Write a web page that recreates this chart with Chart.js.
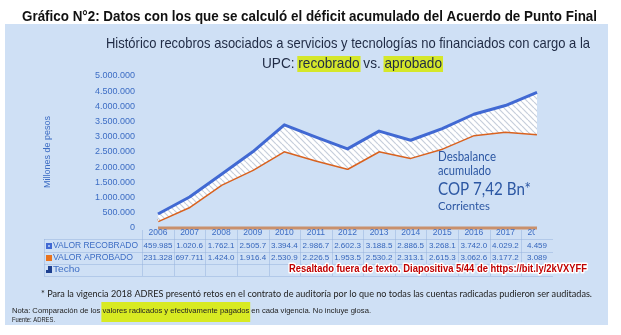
<!DOCTYPE html>
<html>
<head>
<meta charset="utf-8">
<script src="https://cdn.jsdelivr.net/npm/chart.js@4.4.0/dist/chart.umd.min.js"></script>
<style>
  html, body { margin: 0; padding: 0; background: #fff; }
  #wrap { width: 621px; height: 335px; }
</style>
</head>
<body>
<div id="wrap"><canvas id="myChart" width="621" height="335"></canvas></div>
<script>
// data (millones de pesos)
var years = ["2006", "2007", "2008", "2009", "2010", "2011", "2012", "2013", "2014", "2015", "2016", "2017", "2018"];
var recobrado = [459985, 1020600, 1762100, 2505700, 3394400, 2986700, 2602300, 3188500, 2886500, 3268100, 3742000, 4029200, 4459000];
var aprobado = [231328, 697711, 1424000, 1916400, 2530900, 2226500, 1953500, 2530200, 2313100, 2615300, 3062600, 3177200, 3089000];
// text shown in the data table (truncated as in the slide)
var recobradoText = ["459.985", "1.020.6", "1.762.1", "2.505.7", "3.394.4", "2.986.7", "2.602.3", "3.188.5", "2.886.5", "3.268.1", "3.742.0", "4.029.2", "4.459"];
var aprobadoText = ["231.328", "697.711", "1.424.0", "1.916.4", "2.530.9", "2.226.5", "1.953.5", "2.530.2", "2.313.1", "2.615.3", "3.062.6", "3.177.2", "3.089"];
var rowNames = ["VALOR RECOBRADO", "VALOR APROBADO", "Techo"];

var BLUE = "#4169d3";
var ORANGE = "#d9621f";
var AXIS_TXT = "#3d6dc4";
var ARIAL = "'Liberation Sans', Arial, sans-serif";
var NARROW = "'Liberation Sans Narrow', 'Liberation Sans', Arial, sans-serif";
var CALIBRI = "Lato, 'Open Sans', sans-serif";

// diagonal hatch between the two lines
function makeHatch() {
  var s = 6;
  var c = document.createElement("canvas");
  c.width = s; c.height = s;
  var g = c.getContext("2d");
  g.fillStyle = "#ffffff";
  g.fillRect(0, 0, s, s);
  g.strokeStyle = "#c6cedb";
  g.lineWidth = 1.2;
  [-s, 0, s].forEach(function (o) {
    g.beginPath();
    g.moveTo(o, 0);
    g.lineTo(o + s, s);
    g.stroke();
  });
  return g.createPattern(c, "repeat");
}

// draw text stretched/squeezed to a target width
function fitText(ctx, text, x, y, width) {
  var w = ctx.measureText(text).width;
  ctx.save();
  ctx.translate(x, y);
  ctx.scale(width / w, 1);
  ctx.textAlign = "left";
  ctx.fillText(text, 0, 0);
  ctx.restore();
}

var decor = {
  id: "decor",
  beforeDraw: function (chart) {
    var ctx = chart.ctx;
    ctx.save();
    ctx.fillStyle = "#ffffff";
    ctx.fillRect(0, 0, chart.width, chart.height);
    ctx.fillStyle = "#cfe0f5";
    ctx.fillRect(5, 24, 603, 301);
    ctx.restore();
  },
  afterDraw: function (chart) {
    var ctx = chart.ctx;
    var xs = chart.scales.x;
    var area = chart.chartArea;
    ctx.save();
    ctx.textBaseline = "middle";

    // heading above the panel
    ctx.fillStyle = "#111111";
    ctx.font = "bold 14px " + NARROW;
    fitText(ctx, "Gráfico N°2: Datos con los que se calculó el déficit acumulado del Acuerdo de Punto Final", 22, 17, 575);

    // panel title
    ctx.fillStyle = "#1f2a44";
    ctx.font = "15px " + ARIAL;
    fitText(ctx, "Histórico recobros asociados a servicios y tecnologías no financiados con cargo a la", 106, 44, 484);
    var parts = ["UPC: ", "recobrado", " vs. ", "aprobado"];
    var full = parts.join("");
    var sc = 180 / ctx.measureText(full).width;
    var px = 262;
    parts.forEach(function (p, i) {
      var w = ctx.measureText(p).width * sc;
      if (i === 1 || i === 3) {
        ctx.fillStyle = "#d5e72a";
        ctx.fillRect(px - 1, 56, w + 2, 16);
      }
      ctx.fillStyle = "#1f2a44";
      fitText(ctx, p, px, 64, w);
      px += w;
    });

    // axis title
    ctx.save();
    ctx.translate(48, 152);
    ctx.rotate(-Math.PI / 2);
    ctx.fillStyle = AXIS_TXT;
    ctx.font = "9px " + ARIAL;
    ctx.textAlign = "center";
    ctx.fillText("Millones de pesos", 0, 0);
    ctx.restore();

    // floor line
    ctx.strokeStyle = "#c9906c";
    ctx.lineWidth = 3;
    ctx.beginPath();
    ctx.moveTo(area.left, area.bottom);
    ctx.lineTo(area.right, area.bottom);
    ctx.stroke();

    // annotation
    ctx.fillStyle = "#2c57a3";
    ctx.font = "13px " + CALIBRI;
    fitText(ctx, "Desbalance", 438, 157, 58);
    fitText(ctx, "acumulado", 438, 171, 53);
    ctx.font = "18px " + CALIBRI;
    fitText(ctx, "COP 7,42 Bn*", 438, 189, 93);
    ctx.font = "11px " + CALIBRI;
    fitText(ctx, "Corrientes", 438, 206, 52);

    // data table
    var colW = xs.getPixelForValue(1) - xs.getPixelForValue(0);
    var tRight = 553;
    ctx.save();
    ctx.beginPath();
    ctx.rect(0, 0, tRight, chart.height);
    ctx.clip();
    ctx.strokeStyle = "rgba(150,178,222,0.5)";
    ctx.lineWidth = 1;
    [239.5, 252.5, 264.5, 276.5].forEach(function (y) {
      ctx.beginPath();
      ctx.moveTo(44, y);
      ctx.lineTo(tRight, y);
      ctx.stroke();
    });
    for (var i = 0; i <= years.length; i++) {
      var bx = Math.round(xs.getPixelForValue(0) - colW / 2 + i * colW) + 0.5;
      ctx.beginPath();
      ctx.moveTo(bx, 230);
      ctx.lineTo(bx, 276);
      ctx.stroke();
    }
    ctx.beginPath();
    ctx.moveTo(44.5, 239);
    ctx.lineTo(44.5, 276);
    ctx.stroke();

    ctx.textAlign = "center";
    ctx.fillStyle = AXIS_TXT;
    ctx.font = "8.5px " + ARIAL;
    years.forEach(function (y, i) {
      var cx = xs.getPixelForValue(i);
      ctx.save();
      ctx.beginPath();
      ctx.rect(0, 0, 535, chart.height);
      ctx.clip();
      ctx.fillText(y, cx, 233);
      ctx.restore();
    });
    ctx.font = "8px " + ARIAL;
    ctx.fillStyle = "#3565bb";
    recobradoText.forEach(function (t, i) {
      ctx.fillText(t, xs.getPixelForValue(i), 246);
    });
    aprobadoText.forEach(function (t, i) {
      ctx.fillText(t, xs.getPixelForValue(i), 258);
    });
    ctx.restore();

    // row labels with keys
    ctx.font = "9px " + ARIAL;
    ctx.fillStyle = AXIS_TXT;
    fitText(ctx, rowNames[0], 53, 246, 85);
    fitText(ctx, rowNames[1], 53, 258, 80);
    fitText(ctx, rowNames[2], 53, 270, 27);
    ctx.fillStyle = BLUE;
    ctx.fillRect(46, 243, 6, 6);
    ctx.fillStyle = "#9fbaf0";
    ctx.fillRect(48, 245, 2, 2);
    ctx.fillStyle = "#e8731f";
    ctx.fillRect(46, 255, 6, 6);
    ctx.fillStyle = "#1d3f8f";
    ctx.fillRect(48, 266, 4, 7);
    ctx.fillRect(46, 270, 6, 3);

    // red note
    ctx.font = "bold 11px " + NARROW;
    var note = "Resaltado fuera de texto. Diapositiva 5/44 de https://bit.ly/2kVXYFF";
    var nw = ctx.measureText(note).width;
    ctx.save();
    ctx.translate(289, 269);
    ctx.scale(298 / nw, 1);
    ctx.lineJoin = "round";
    ctx.strokeStyle = "#ffffff";
    ctx.lineWidth = 3;
    ctx.strokeText(note, 0, 0);
    ctx.fillStyle = "#c00000";
    ctx.fillText(note, 0, 0);
    ctx.restore();

    // footnotes
    ctx.fillStyle = "#222222";
    ctx.font = "10px " + CALIBRI;
    fitText(ctx, "* Para la vigencia 2018 ADRES presentó retos en el contrato de auditoría por lo que no todas las cuentas radicadas pudieron ser auditadas.", 41, 294, 551);

    ctx.font = "7.5px " + ARIAL;
    var n1 = "Nota: Comparación de los ";
    var n2 = "valores radicados y efectivamente pagados";
    var n3 = " en cada vigencia. No incluye glosa.";
    var tot = ctx.measureText(n1 + n2 + n3).width;
    var k = 359 / tot;
    var w1 = ctx.measureText(n1).width * k;
    var w2 = ctx.measureText(n2).width * k;
    var w3 = ctx.measureText(n3).width * k;
    ctx.fillStyle = "#d8ea22";
    ctx.fillRect(12 + w1 - 1, 302, w2 + 2, 20);
    ctx.fillStyle = "#222222";
    fitText(ctx, n1, 12, 311, w1);
    fitText(ctx, n2, 12 + w1, 311, w2);
    fitText(ctx, n3, 12 + w1 + w2, 311, w3);
    ctx.font = "7.5px " + ARIAL;
    fitText(ctx, "Fuente: ADRES.", 12, 320, 43);

    ctx.restore();
  }
};

var ctx = document.getElementById("myChart").getContext("2d");
var myChart = new Chart(ctx, {
  type: "line",
  data: {
    labels: years,
    datasets: [
      {
        label: "VALOR RECOBRADO",
        data: recobrado,
        borderColor: BLUE,
        borderWidth: 3,
        borderJoinStyle: "round",
        pointRadius: 0,
        tension: 0,
        fill: "+1",
        backgroundColor: makeHatch(),
      },
      {
        label: "VALOR APROBADO",
        data: aprobado,
        borderColor: ORANGE,
        borderWidth: 3,
        borderJoinStyle: "round",
        pointRadius: 0,
        tension: 0,
        fill: false,
      },
    ],
  },
  options: {
    responsive: false,
    animation: false,
    layout: { padding: { top: 76, right: 84, bottom: 107, left: 0 } },
    plugins: {
      legend: { display: false },
      tooltip: { enabled: false },
    },
    scales: {
      x: { display: false, offset: false },
      y: {
        min: 0,
        max: 5000000,
        grid: { display: false, drawTicks: false },
        border: { display: false },
        ticks: {
          stepSize: 500000,
          color: AXIS_TXT,
          padding: 23,
          font: { family: "'Liberation Sans', Arial, sans-serif", size: 9 },
          callback: function (v) {
            return v.toLocaleString("de-DE");
          },
        },
        afterFit: function (s) {
          s.width = 158;
        },
      },
    },
  },
  plugins: [decor],
});
</script>
</body>
</html>
